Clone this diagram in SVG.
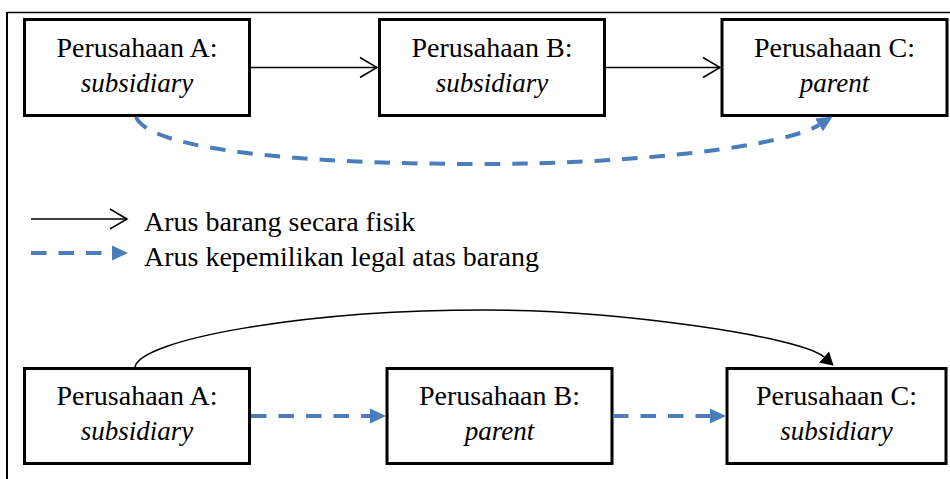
<svg xmlns="http://www.w3.org/2000/svg" width="950" height="479" viewBox="0 0 950 479">
  <style>
    .box { fill: #ffffff; stroke: #000000; stroke-width: 3; }
    .lbl { font-family: "Liberation Serif", "Times New Roman", serif; font-size: 28px; fill: #000000; text-anchor: middle; }
    .role { font-family: "Liberation Serif", "Times New Roman", serif; font-size: 27px; font-style: italic; fill: #000000; text-anchor: middle; }
    .legend { font-family: "Liberation Serif", "Times New Roman", serif; font-size: 28px; fill: #000000; }
    .goods { fill: none; stroke: #000000; stroke-width: 1.5; }
    .owner { fill: none; stroke: #4A7EBB; stroke-width: 4; stroke-dasharray: 15.5 12; }
    .frame { fill: none; stroke: #000000; }
  </style>
  <defs>
    <!-- open V head for physical flow of goods -->
    <marker id="open-head" markerUnits="userSpaceOnUse" viewBox="-19 -12 21 24" markerWidth="21" markerHeight="24" refX="0" refY="0" orient="auto">
      <path d="M-17,-10 L0,0 L-17,10" fill="none" stroke="#000000" stroke-width="1.5"/>
    </marker>
    <!-- filled blue head for legal ownership flow (drawn past the line end) -->
    <marker id="blue-head" markerUnits="userSpaceOnUse" viewBox="0 -8 16 16" markerWidth="16" markerHeight="16" refX="0" refY="0" orient="auto">
      <path d="M0,-7.5 L16,0 L0,7.5 Z" fill="#4A7EBB"/>
    </marker>
    <!-- filled black head for the bypass arc -->
    <marker id="black-head" markerUnits="userSpaceOnUse" viewBox="0 -8 14 16" markerWidth="14" markerHeight="16" refX="0" refY="0" orient="auto">
      <path d="M0,-7.5 L13,0 L0,7.5 Z" fill="#000000"/>
    </marker>
  </defs>

  <!-- outer frame -->
  <line class="frame" x1="7" y1="12.5" x2="950" y2="12.5" stroke-width="1.5"/>
  <line class="frame" x1="7" y1="12" x2="7" y2="479" stroke-width="2"/>

  <!-- scenario 1 -->
  <g id="top-a">
    <rect class="box" x="24.5" y="19.5" width="225" height="96"/>
    <text class="lbl" x="137" y="57">Perusahaan A:</text>
    <text class="role" x="137" y="92">subsidiary</text>
  </g>
  <g id="top-b">
    <rect class="box" x="379.5" y="19.5" width="225" height="96"/>
    <text class="lbl" x="492" y="57">Perusahaan B:</text>
    <text class="role" x="492" y="92">subsidiary</text>
  </g>
  <g id="top-c">
    <rect class="box" x="722" y="19.5" width="225" height="96"/>
    <text class="lbl" x="834.5" y="57">Perusahaan C:</text>
    <text class="role" x="834.5" y="92">parent</text>
  </g>

  <!-- legend -->
  <g id="legend">
    <line class="goods" x1="31" y1="219" x2="127" y2="219" marker-end="url(#open-head)"/>
    <text class="legend" x="144" y="231">Arus barang secara fisik</text>
    <line class="owner" x1="31" y1="253" x2="112" y2="253" marker-end="url(#blue-head)"/>
    <text class="legend" x="144" y="266">Arus kepemilikan legal atas barang</text>
  </g>

  <!-- scenario 2 -->
  <g id="bottom-a">
    <rect class="box" x="24.5" y="368.5" width="225" height="95"/>
    <text class="lbl" x="137" y="405">Perusahaan A:</text>
    <text class="role" x="137" y="440">subsidiary</text>
  </g>
  <g id="bottom-b">
    <rect class="box" x="387" y="368.5" width="225" height="95"/>
    <text class="lbl" x="499.5" y="405">Perusahaan B:</text>
    <text class="role" x="499.5" y="440">parent</text>
  </g>
  <g id="bottom-c">
    <rect class="box" x="727" y="368.5" width="219" height="95"/>
    <text class="lbl" x="836.5" y="405">Perusahaan C:</text>
    <text class="role" x="836.5" y="440">subsidiary</text>
  </g>

  <!-- connectors -->
  <g id="connectors">
    <line class="goods" x1="251" y1="67.5" x2="377" y2="67.5" marker-end="url(#open-head)"/>
    <line class="goods" x1="606" y1="67.5" x2="720" y2="67.5" marker-end="url(#open-head)"/>
    <path class="owner" d="M136,117 C150,150 300,164 480,164 C640,164 785,146 819,125" marker-end="url(#blue-head)"/>

    <path class="goods" d="M135,367 C140,340 300,310 485,310 C620,310 802,337 824,357" marker-end="url(#black-head)"/>
    <line class="owner" x1="251" y1="416" x2="370" y2="416" marker-end="url(#blue-head)"/>
    <line class="owner" x1="613" y1="416" x2="710" y2="416" marker-end="url(#blue-head)"/>
  </g>
</svg>
